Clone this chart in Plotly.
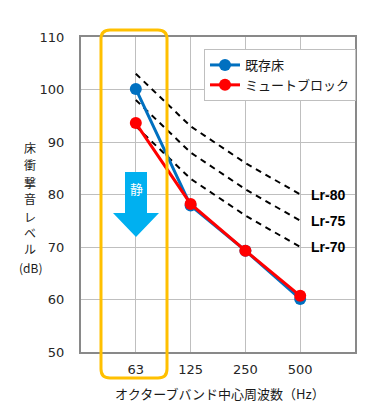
import plotly.graph_objects as go

# ---- data ----
freq_labels = ["63", "125", "250", "500"]
existing_floor = [100.1, 77.9, 69.3, 60.1]
mute_block = [93.6, 78.2, 69.3, 60.7]
lr80 = [103, 93, 86, 80]
lr75 = [98, 88, 81, 75]
lr70 = [93, 83, 76, 70]
lr_names = ["Lr-80", "Lr-75", "Lr-70"]
y_ticks = [50, 60, 70, 80, 90, 100, 110]
y_title_chars = ["床", "衝", "撃", "音", "レ", "ベ", "ル", "(dB)"]

W, H = 375, 413
OFF = 8  # page body margin
L, R, T, B = 81, 355, 37, 352  # plot area in page px

def px(x):
    return (x - L) / (R - L)

def py(y):
    return (B - y) / (B - T)

JP = "Noto Sans CJK JP"
NUM = "DejaVu Sans"

xs = list(range(len(freq_labels)))
fig = go.Figure()

for vals in (lr80, lr75, lr70):
    fig.add_trace(go.Scatter(x=xs, y=vals, mode="lines", showlegend=False,
                             line=dict(color="black", width=2, dash="6px,5px"),
                             hoverinfo="skip"))

fig.add_trace(go.Scatter(x=xs, y=existing_floor, mode="lines+markers", name="既存床",
                         line=dict(color="#0070C0", width=3),
                         marker=dict(color="#0070C0", size=12)))
fig.add_trace(go.Scatter(x=xs, y=mute_block, mode="lines+markers", name="ミュートブロック",
                         line=dict(color="#FF0000", width=3),
                         marker=dict(color="#FF0000", size=12)))

annotations = []
for name, vals in zip(lr_names, (lr80, lr75, lr70)):
    annotations.append(dict(x=xs[-1], y=vals[-1], xref="x", yref="y",
                            text="<b>" + name + "</b>",
                            showarrow=False, xanchor="left", yanchor="middle", xshift=9,
                            font=dict(family="Liberation Sans", size=14, color="black")))

# y-axis title, stacked vertically
y_char_pos = [147, 164, 182, 199, 216, 232, 248, 267]
for ch, yy in zip(y_title_chars, y_char_pos):
    annotations.append(dict(x=px(30), y=py(yy), xref="paper", yref="paper",
                            text=ch, showarrow=False, xanchor="center", yanchor="middle",
                            borderpad=0,
                            font=dict(family=JP, size=12, color="#1a1a1a")))
# x-axis title
annotations.append(dict(x=px(220), y=py(393), xref="paper", yref="paper",
                        text="オクターブバンド中心周波数（Hz）", showarrow=False,
                        xanchor="center", yanchor="middle",
                        font=dict(family=JP, size=13, color="#1a1a1a")))
# arrow text
annotations.append(dict(x=px(136), y=py(189), xref="paper", yref="paper",
                        text="静", showarrow=False, xanchor="center", yanchor="middle",
                        font=dict(family=JP, size=13, color="white")))

def P(a, b):
    return f"{px(a):.5f},{py(b):.5f}"

# blue arrow shape
ax = [125, 147, 147, 159, 136, 113, 125]
ay = [172, 172, 213, 213, 237, 213, 213]
arrow_path = "M " + " L ".join(P(a, b) for a, b in zip(ax, ay)) + " Z"

# orange rounded rectangle
x0, x1, y0, y1, r = 101, 167, 30, 378, 9
rect_path = (f"M {P(x0 + r, y0)} L {P(x1 - r, y0)} Q {P(x1, y0)} {P(x1, y0 + r)} "
             f"L {P(x1, y1 - r)} Q {P(x1, y1)} {P(x1 - r, y1)} "
             f"L {P(x0 + r, y1)} Q {P(x0, y1)} {P(x0, y1 - r)} "
             f"L {P(x0, y0 + r)} Q {P(x0, y0)} {P(x0 + r, y0)} Z")

shapes = [
    dict(type="path", path=arrow_path, xref="paper", yref="paper",
         fillcolor="#00B0F0", line=dict(width=0), layer="above"),
    dict(type="path", path=rect_path, xref="paper", yref="paper",
         fillcolor="rgba(0,0,0,0)", line=dict(color="#FFC000", width=3), layer="above"),
]

fig.update_layout(
    width=W, height=H,
    margin=dict(l=L - OFF, r=W - (R - OFF), t=T - OFF, b=H - (B - OFF)),
    paper_bgcolor="white", plot_bgcolor="white",
    font=dict(family=NUM, size=13, color="#262626"),
    showlegend=True,
    legend=dict(x=px(204), y=py(49), xanchor="left", yanchor="top",
                bgcolor="white", bordercolor="#BFBFBF", borderwidth=1,
                font=dict(family=JP, size=13, color="#1a1a1a"),
                itemwidth=30),
    annotations=annotations,
    shapes=shapes,
)
fig.update_xaxes(range=[-1, 4], tickmode="array", tickvals=xs, ticktext=freq_labels,
                 showgrid=True, gridcolor="#BFBFBF", gridwidth=1,
                 showline=True, linecolor="#898989", linewidth=2, mirror=True,
                 zeroline=False, ticks="", ticklabelstandoff=4,
                 tickfont=dict(family=NUM, size=13, color="#262626"), fixedrange=True)
fig.update_yaxes(range=[50, 110], tickmode="array", tickvals=y_ticks,
                 showgrid=True, gridcolor="#BFBFBF", gridwidth=1,
                 showline=True, linecolor="#898989", linewidth=2, mirror=True,
                 zeroline=False, ticks="", ticklabelstandoff=12,
                 tickfont=dict(family=NUM, size=13, color="#262626"), fixedrange=True)

fig.write_html("out.html")
